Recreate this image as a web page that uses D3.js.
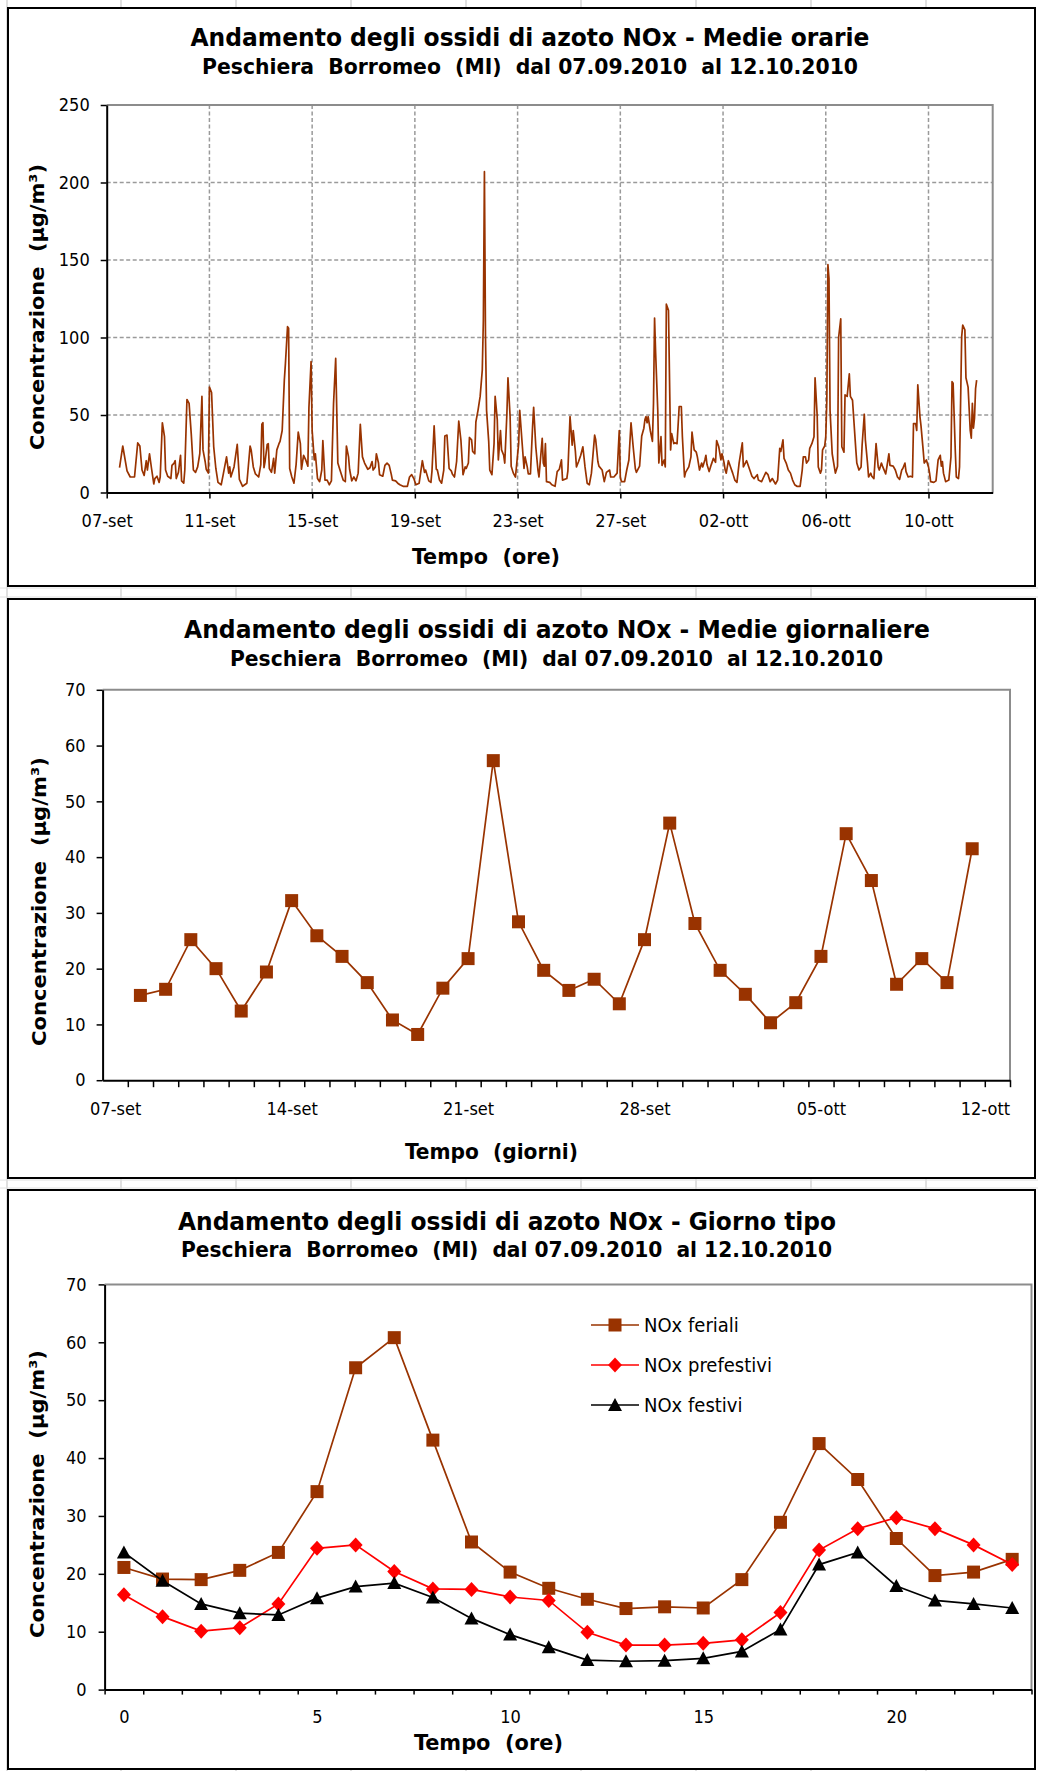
<!DOCTYPE html>
<html>
<head>
<meta charset="utf-8">
<script src="https://d3js.org/d3.v7.min.js"></script>
<title>NOx Peschiera Borromeo</title>
<style>
  body { margin: 0px; background: #fff; }
  .axis text { font-family: 'DejaVu Sans Condensed', 'DejaVu Sans'; font-size: 18px; fill: #000; }
  .axis .domain { stroke: #000; stroke-width: 2; }
  .axis .tick line { stroke: #000; stroke-width: 1.5; }
  .ttl { font-family: 'DejaVu Sans Condensed', 'DejaVu Sans'; font-weight: bold; fill: #000; white-space: pre; }
  .ylab { font-family: 'DejaVu Sans'; font-weight: bold; font-size: 20px; fill: #000; white-space: pre; }
  .leg { font-family: 'DejaVu Sans Condensed', 'DejaVu Sans'; font-size: 20px; fill: #000; }
</style>
</head>
<body>
<svg width="1038" height="1771"></svg>
<script>
// ---------- data: medie orarie (hour index from 07-set 00:00, value) ----------
const labelsOrarie = ['07-set', '11-set', '15-set', '19-set', '23-set', '27-set', '02-ott', '06-ott', '10-ott'];
const oreOrarie = [12,15,19,22,26,29,31,33,35,37,38,40,42,44,45,47,49,50,52,54,55,57,60,61,63,64,65,67,69,70,72,73,75,77,79,81,83,85,87,89,90,92,93,95,96,98,100,102,104,107,109,112,114,115,116,119,122,124,127,131,134,135,137,
  139,142,144,145,146,147,148,150,151,152,154,156,157,159,161,162,164,166,167,169,170,171,173,175,177,179,181,182,184,186,188,189,191,192,194,195,197,199,201,202,204,206,208,210,212,214,216,218,221,223,224,226,227,229,231,233,235,237,239,241,244,246,248,249,251,252,254,255,258,260,262,264,266,267,270,
  272,274,277,281,283,285,287,289,292,295,297,298,301,303,304,306,308,309,311,313,315,316,318,320,322,323,325,327,329,331,333,335,336,338,339,341,342,344,345,347,349,351,352,353,354,355,357,358,360,362,363,365,366,368,369,371,372,374,375,377,378,380,382,385,386,388,390,391,393,394,396,398,399,401,403,404,407,408,409,
  410,411,414,416,419,421,423,425,426,430,431,433,435,436,438,439,441,443,445,447,449,451,453,456,457,459,460,463,465,467,470,471,474,477,479,480,481,484,486,488,490,492,494,495,498,500,502,503,504,505,506,508,510,511,512,513,515,516,518,519,521,522,523,525,527,528,530,531,533,535,537,538,540,541,544,546,
  547,549,551,552,554,556,557,559,560,561,563,565,567,569,570,572,574,575,577,578,579,581,583,585,587,589,591,594,595,598,599,601,603,605,608,609,612,614,616,618,620,622,625,627,629,630,632,633,635,637,639,641,643,645,648,650,651,653,654,656,657,659,661,662,664,665,667,668,669,671,672,673,674,675,676,678,680,681,
  683,684,686,687,689,690,692,694,695,697,698,700,701,703,705,706,708,709,711,712,714,715,717,719,721,722,724,725,728,729,731,732,735,737,739,741,743,744,746,747,749,751,753,754,756,757,758,760,761,763,764,766,768,769,770,773,775,777,779,780,781,782,784,787,789,790,791,793,794,796,797,799,800,802,803,805,807,808,809,810,811,812,813];
const valOrarie = [16,30,14,10,10,32,30,14.5,11,20.5,14.5,25,15,5.5,9,10.5,6.5,10,45,36,14.5,10.5,9,17.5,19,20.5,9,13,24,7.5,6,14.5,60,57.5,38,14.5,13,16.5,25,62,27.5,20,15,12.5,68,64.5,29.5,15.5,6.5,5,12,23,12.5,16.5,10,16.5,31,8.5,4,6,30,27.5,16.5,
  12,10,18,44,45,16,20,31,31.5,15.5,13,22,12.5,27.5,31.5,33,40,72.5,83,107,106,15.5,10,6,18,39,31.5,15,24,21,17,55,84.5,40,21,25,9,7,14.5,33.5,8,8,5,7.5,57.5,86.5,19,14.5,8,7,30,23,15,7.5,10,7.5,12.5,44,23,19,15,16,20,14.5,16.5,25,19,11.5,10.5,17.5,19,17.5,11.5,8,7.5,
  6,5,4,4,10,11.5,9,5,6,20.5,13,14.5,7.5,6.5,14,43,15,14.5,8,6,14.5,36.5,37,15.5,14,12,10,20,46,34,11.5,16.5,15.5,19,35.5,34,26.5,25,45.5,53,62,79,111,207,100,53,33,14.5,11.5,31.5,62,47,21,40,27.5,24,19,51,74,49,17,12.5,10,31.5,53,34,15.5,23,16.5,12,12,42.5,55,29.5,14.5,10,35,19,17,
  31.5,7,6.5,5,4,13.5,15,21,8,9,14,49,30.5,40,26.5,16.5,20,24,29.5,16.5,6,5,12.5,37,34,20,17,14.5,7,13,14.5,10,10,12.5,40,10,7,7,14.5,21,45,29.5,15.5,13,17,36.5,41.5,47,49,45,49,40,33,57.5,112.5,90,53,19,36,17.5,21,16.5,121.5,117.5,27.5,38,31.5,32,31.5,55.5,55.5,36,10,13,16.5,23,
  39,27.5,26,23,14.5,19,16.5,21,24,18,13.5,18,22,19.5,33.5,29.5,21,25,19,14.5,12.5,20.5,16.5,12.5,8,6.5,19,32,16.5,20.5,18.5,14.5,10.5,9,11.5,8,7,10,13,11.5,7,9,5.5,8,28.5,26.5,34,22,19,14.5,12.5,8,5,4,4,14.5,23,23,19,21,28.5,31.5,36,74,49,16.5,12.5,14.5,27.5,30,36,60,147,138,53,25,16.5,12.5,
  17,100,112,29.5,26,63,62,76.5,62,59.5,49,28.5,19,14.5,16.5,31,50.5,34,19,10,12.5,10.5,9,31.5,16.5,14.5,19,17,12,16,25,17.5,17,14.5,10,8.5,14.5,15.5,19,13.5,10,10.5,10,44.5,44.5,40,69.5,49,43,27.5,19,21,16.5,12.5,7,6.5,7.5,21,24,17,20,12.5,7,8,23,71.5,70.5,27.5,10,9,16.5,100.5,108,105,74,68,40,35,57.5,41.5,48,67,72.5];

// ---------- data: medie giornaliere ----------
const giorni = ['2010-09-08','2010-09-09','2010-09-10','2010-09-11','2010-09-12','2010-09-13','2010-09-14','2010-09-15','2010-09-16','2010-09-17','2010-09-18','2010-09-19','2010-09-20','2010-09-21','2010-09-22','2010-09-23','2010-09-24',
  '2010-09-25','2010-09-26','2010-09-27','2010-09-28','2010-09-29','2010-09-30','2010-10-01','2010-10-02','2010-10-03','2010-10-04','2010-10-05','2010-10-06','2010-10-07','2010-10-08','2010-10-09','2010-10-10','2010-10-11'];
const valGiornaliere = [15.2,16.3,25.2,20.0,12.4,19.4,32.2,25.9,22.2,17.5,10.8,8.2,16.5,21.8,57.3,28.4,19.7,16.1,18.1,13.7,25.2,46.1,28.1,19.7,15.4,10.3,13.9,22.2,44.2,35.8,17.2,21.8,17.5,41.5];
const tickGiorni = ['2010-09-07','2010-09-14','2010-09-21','2010-09-28','2010-10-05','2010-10-12'];
const labelsGiorni = ['07-set','14-set','21-set','28-set','05-ott','12-ott'];

// ---------- data: giorno tipo ----------
const ore = [0,1,2,3,4,5,6,7,8,9,10,11,12,13,14,15,16,17,18,19,20,21,22,23];
const feriali = [21.1,19.1,19.0,20.6,23.7,34.2,55.6,60.8,43.1,25.5,20.3,17.5,15.6,14.0,14.3,14.1,19.0,28.9,42.5,36.3,26.1,19.7,20.3,22.5];
const prefestivi = [16.4,12.6,10.1,10.7,14.8,24.4,25.0,20.4,17.4,17.3,16.0,15.4,9.9,7.7,7.7,8.0,8.6,13.3,24.1,27.8,29.7,27.8,25.0,21.6];
const festivi = [23.7,18.8,14.8,13.2,12.9,15.8,17.8,18.4,15.9,12.3,9.5,7.3,5.1,4.9,5.0,5.4,6.6,10.4,21.6,23.7,17.9,15.4,14.8,14.1];
const serieTipo = [
  { name: 'NOx feriali', values: feriali, color: '#993300', shape: 'square' },
  { name: 'NOx prefestivi', values: prefestivi, color: '#ff0000', shape: 'diamond' },
  { name: 'NOx festivi', values: festivi, color: '#000000', shape: 'triangle' }
];

const brown = '#993300';
const svg = d3.select('svg');
const parseDay = d3.utcParse('%Y-%m-%d');

// spreadsheet cell lines visible between the charts
[7, 121, 236, 351, 466, 581, 696, 811, 926].forEach(x => {
  svg.append('line').attr('x1', x).attr('x2', x).attr('y1', 0).attr('y2', 1771)
    .attr('stroke', '#d6d6d6').attr('stroke-width', 1.5);
});
[588, 597, 1180, 1188].forEach(y => {
  svg.append('line').attr('x1', 0).attr('x2', 1038).attr('y1', y).attr('y2', y)
    .attr('stroke', '#e0e0e0').attr('stroke-width', 1);
});

function frame(y0, y1) {
  svg.append('rect').attr('x', 8).attr('y', y0).attr('width', 1027).attr('height', y1 - y0)
    .attr('fill', '#fff').attr('stroke', '#000').attr('stroke-width', 2);
}

function text(str, x, y, size, len, cls) {
  return svg.append('text').attr('class', cls || 'ttl')
    .attr('x', x).attr('y', y).attr('text-anchor', 'middle')
    .style('font-size', size + 'px')
    .attr('textLength', len).attr('lengthAdjust', 'spacingAndGlyphs')
    .text(str);
}

function yTitle(cy, bx, len) {
  svg.append('text').attr('class', 'ylab')
    .attr('transform', `translate(${bx},${cy}) rotate(-90)`)
    .attr('text-anchor', 'middle')
    .attr('textLength', len).attr('lengthAdjust', 'spacingAndGlyphs')
    .text('Concentrazione  (µg/m³)');
}

function plotBorder(x0, x1, y0, y1) {
  svg.append('path').attr('d', `M${x0},${y0}H${x1}V${y1}`)
    .attr('fill', 'none').attr('stroke', '#8c8c8c').attr('stroke-width', 2);
}

function marker(g, shape, color) {
  let p;
  if (shape === 'square') p = 'M-6.5,-6.5H6.5V6.5H-6.5Z';
  else if (shape === 'diamond') p = 'M0,-7.5L7,0L0,7.5L-7,0Z';
  else p = 'M0,-7L7,6L-7,6Z';
  return g.append('path').attr('d', p).attr('fill', color);
}

const sub = 'Peschiera  Borromeo  (MI)  dal 07.09.2010  al 12.10.2010';

// ================= Chart 1: medie orarie =================
frame(8, 586);
text('Andamento degli ossidi di azoto NOx - Medie orarie', 530, 46, 24, 679);
text(sub, 530, 73.5, 20.5, 656);
{
  const x = d3.scaleLinear().domain([0, 828]).range([106.7, 992.7]);
  const y = d3.scaleLinear().domain([0, 250]).range([492.5, 105]);
  const xt = labelsOrarie.map((d, i) => i * 96);

  const grid = svg.append('g').attr('stroke', '#9a9a9a').attr('stroke-width', 1.5).attr('stroke-dasharray', '4,2.5');
  grid.selectAll('.h').data([50, 100, 150, 200]).enter().append('line')
    .attr('x1', x.range()[0]).attr('x2', x.range()[1]).attr('y1', d => y(d)).attr('y2', d => y(d));
  grid.selectAll('.v').data(xt.slice(1)).enter().append('line')
    .attr('x1', d => x(d)).attr('x2', d => x(d)).attr('y1', y(0)).attr('y2', y(250));
  plotBorder(x.range()[0], x.range()[1], y(250), y(0));

  svg.append('path').datum(d3.zip(oreOrarie, valOrarie))
    .attr('fill', 'none').attr('stroke', brown).attr('stroke-width', 1.7).attr('stroke-linejoin', 'round')
    .attr('d', d3.line().x(d => x(d[0])).y(d => y(d[1])));

  svg.append('g').attr('class', 'axis').attr('transform', `translate(0,${y(0)})`)
    .call(d3.axisBottom(x).tickValues(xt).tickFormat((d, i) => labelsOrarie[i])
      .tickSizeInner(6).tickSizeOuter(0).tickPadding(16));
  svg.append('g').attr('class', 'axis').attr('transform', `translate(${x(0)},0)`)
    .call(d3.axisLeft(y).tickValues([0, 50, 100, 150, 200, 250]).tickSizeInner(6).tickSizeOuter(0).tickPadding(11));

  text('Tempo  (ore)', 486, 564, 22, 148);
  yTitle(307, 44, 286);
}

// ================= Chart 2: medie giornaliere =================
frame(599, 1178);
text('Andamento degli ossidi di azoto NOx - Medie giornaliere', 557, 638, 24, 746);
text(sub, 556.5, 666, 20.5, 653);
{
  const t0 = Date.UTC(2010, 8, 6, 12), t1 = Date.UTC(2010, 9, 12, 12);
  const x = d3.scaleUtc().domain([t0, t1]).range([102.6, 1010]);
  const y = d3.scaleLinear().domain([0, 70]).range([1080.2, 689.8]);
  plotBorder(x.range()[0], x.range()[1], y(70), y(0));

  const data = giorni.map((d, i) => [parseDay(d), valGiornaliere[i]]);
  svg.append('path').datum(data)
    .attr('fill', 'none').attr('stroke', brown).attr('stroke-width', 1.7)
    .attr('d', d3.line().x(d => x(d[0])).y(d => y(d[1])));
  const pts = svg.append('g');
  data.forEach(d => {
    marker(pts, 'square', brown).attr('transform', `translate(${x(d[0])},${y(d[1])})`);
  });

  const dayTicks = d3.utcDay.range(new Date(t0 - 1), new Date(t1 + 1)).map(d => new Date(+d + 12 * 3600e3));
  svg.append('g').attr('class', 'axis').attr('transform', `translate(0,${y(0)})`)
    .call(d3.axisBottom(x).tickValues(dayTicks).tickFormat('').tickSizeInner(7).tickSizeOuter(0));
  const lab = svg.append('g').attr('class', 'axis').attr('transform', `translate(0,${y(0)})`)
    .call(d3.axisBottom(x).tickValues(tickGiorni.map(parseDay)).tickFormat((d, i) => labelsGiorni[i])
      .tickSize(0).tickPadding(22));
  lab.select('.domain').remove();
  lab.selectAll('.tick').filter((d, i) => i === labelsGiorni.length - 1)
    .attr('transform', `translate(${x(parseDay(tickGiorni[tickGiorni.length - 1])) - 12},0)`);
  svg.append('g').attr('class', 'axis').attr('transform', `translate(${x.range()[0]},0)`)
    .call(d3.axisLeft(y).tickValues([0, 10, 20, 30, 40, 50, 60, 70]).tickSizeInner(6).tickSizeOuter(0).tickPadding(11));

  text('Tempo  (giorni)', 491.5, 1158.6, 22, 173);
  yTitle(901.6, 46, 289);
}

// ================= Chart 3: giorno tipo =================
frame(1190, 1769);
text('Andamento degli ossidi di azoto NOx - Giorno tipo', 507, 1230, 24, 658);
text(sub, 506.5, 1257, 20.5, 651);
{
  const x = d3.scaleLinear().domain([-0.5, 23.5]).range([104.6, 1031.5]);
  const y = d3.scaleLinear().domain([0, 70]).range([1689.6, 1284.4]);
  plotBorder(x.range()[0], x.range()[1], y(70), y(0));

  serieTipo.forEach(s => {
    const data = ore.map((h, i) => [h, s.values[i]]);
    svg.append('path').datum(data)
      .attr('fill', 'none').attr('stroke', s.color).attr('stroke-width', 1.7)
      .attr('d', d3.line().x(d => x(d[0])).y(d => y(d[1])));
    const g = svg.append('g');
    data.forEach(d => marker(g, s.shape, s.color).attr('transform', `translate(${x(d[0])},${y(d[1])})`));
  });

  svg.append('g').attr('class', 'axis').attr('transform', `translate(0,${y(0)})`)
    .call(d3.axisBottom(x).tickValues(ore.map(h => h - 0.5).concat([23.5])).tickFormat('').tickSizeInner(5).tickSizeOuter(0));
  const lab = svg.append('g').attr('class', 'axis').attr('transform', `translate(0,${y(0)})`)
    .call(d3.axisBottom(x).tickValues(ore.filter(h => h % 5 === 0)).tickSize(0).tickPadding(21));
  lab.select('.domain').remove();
  svg.append('g').attr('class', 'axis').attr('transform', `translate(${x.range()[0]},0)`)
    .call(d3.axisLeft(y).tickValues([0, 10, 20, 30, 40, 50, 60, 70]).tickSizeInner(6).tickSizeOuter(0).tickPadding(12));

  // legend
  const leg = svg.append('g').attr('transform', 'translate(591,1325)');
  serieTipo.forEach((s, i) => {
    const r = leg.append('g').attr('transform', `translate(0,${i * 40})`);
    r.append('line').attr('x1', 0).attr('x2', 48).attr('stroke', s.color).attr('stroke-width', 1.7);
    marker(r, s.shape, s.color).attr('transform', 'translate(24,0)');
    r.append('text').attr('class', 'leg').attr('x', 53).attr('dy', '0.35em').text(s.name);
  });

  text('Tempo  (ore)', 488.5, 1750, 22, 149);
  yTitle(1494, 44, 288);
}
</script>
</body>
</html>
